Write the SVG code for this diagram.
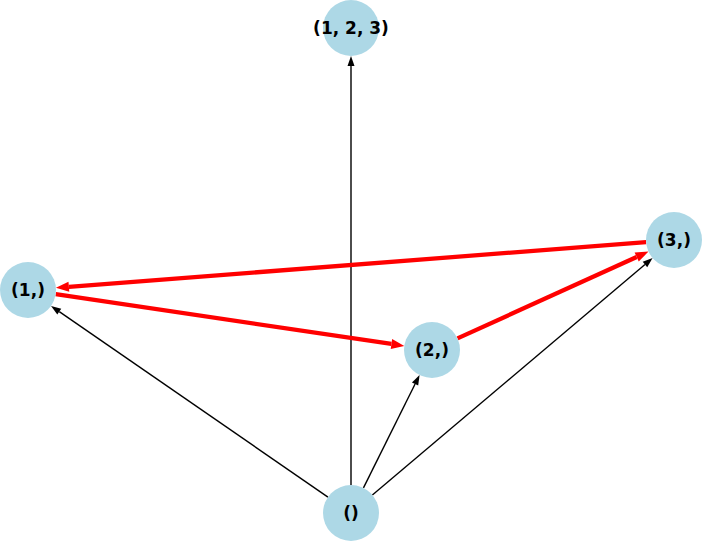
<svg xmlns="http://www.w3.org/2000/svg" width="703" height="542" viewBox="0 0 703 542">
<style>
.node circle{fill:#add8e6}
.node text{font-family:"DejaVu Sans",sans-serif;font-weight:bold;font-size:17px;fill:#000;text-anchor:middle;dominant-baseline:central}
.blk{stroke:#000;stroke-width:1.4;fill:none;marker-end:url(#ab)}
.red{stroke:#f00;stroke-width:4.3;fill:none;marker-end:url(#ar)}
</style>
<defs>
<marker id="ab" markerUnits="userSpaceOnUse" markerWidth="12" markerHeight="10" refX="0" refY="5" orient="auto" overflow="visible"><path d="M0,1.5 L10,5 L0,8.5 z" fill="#000"/></marker>
<marker id="ar" markerUnits="userSpaceOnUse" markerWidth="14" markerHeight="12" refX="0" refY="6" orient="auto" overflow="visible"><path d="M0,1 L13,6 L0,11 z" fill="#f00"/></marker>
</defs>
<rect width="703" height="542" fill="#fff"/>
<g id="edges">
<line class="blk" x1="351" y1="485" x2="351" y2="66"/>
<line class="blk" x1="327.96" y1="497.09" x2="59.27" y2="311.59"/>
<line class="blk" x1="363.46" y1="487.92" x2="415.09" y2="384.04"/>
<line class="blk" x1="372.39" y1="494.93" x2="644.97" y2="264.53"/>
<line class="red" x1="646.08" y1="242.16" x2="68.88" y2="286.84"/>
<line class="red" x1="55.70" y1="294.11" x2="391.44" y2="343.98"/>
<line class="red" x1="457.49" y1="338.41" x2="636.67" y2="256.97"/>
</g>
<g id="n123" class="node"><circle cx="351" cy="28" r="28"/><text x="351" y="28">(1, 2, 3)</text></g>
<g id="n1" class="node"><circle cx="28" cy="290" r="28"/><text x="28" y="290">(1,)</text></g>
<g id="n2" class="node"><circle cx="432" cy="350" r="28"/><text x="432" y="350">(2,)</text></g>
<g id="n3" class="node"><circle cx="674" cy="240" r="28"/><text x="674" y="240">(3,)</text></g>
<g id="n0" class="node"><circle cx="351" cy="513" r="28"/><text x="351" y="513">()</text></g>
</svg>
